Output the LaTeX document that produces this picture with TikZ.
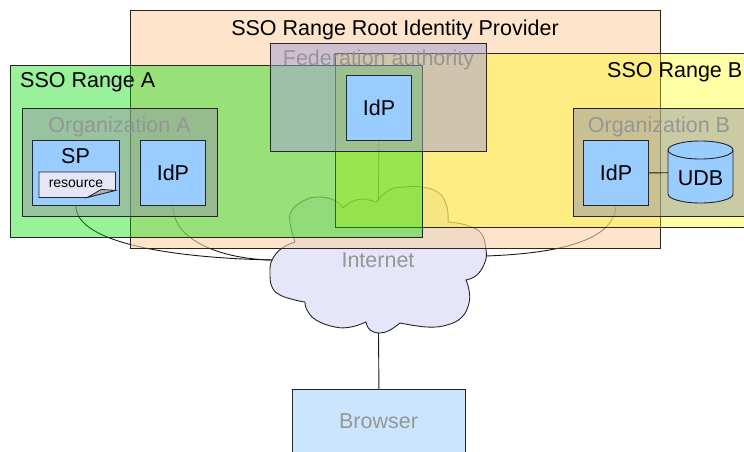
\documentclass[tikz,border=0pt]{standalone}
\usepackage{fontspec}
\setmainfont{Liberation Sans}
\pgfdeclarelayer{cloudlayer}
\pgfdeclarelayer{linklayer}
\pgfsetlayers{cloudlayer,linklayer,main}

\definecolor{peach}{RGB}{251,210,167}
\definecolor{rangeAfill}{RGB}{0,220,0}
\definecolor{rangeBfill}{RGB}{255,255,0}
\definecolor{fedfill}{RGB}{163,156,214}
\definecolor{orgfill}{RGB}{150,150,165}
\definecolor{compblue}{RGB}{153,204,255}
\definecolor{cloudfill}{RGB}{230,230,250}
\definecolor{browserfill}{RGB}{204,229,255}
\definecolor{notefill}{RGB}{230,230,250}
\definecolor{labelgray}{RGB}{150,150,150}

\begin{document}
\begin{tikzpicture}[x=1pt,y=1pt,
  outline/.style={draw=black!85, line width=0.9pt},
  area/.style={outline, fill opacity=#1, rectangle, inner sep=0pt, anchor=north west},
  comp/.style={outline, fill=compblue, rectangle, inner sep=0pt, anchor=north west},
  big/.style={font=\fontsize{21.5}{25}\selectfont},
  small/.style={font=\fontsize{14}{16}\selectfont},
  lbl/.style={inner sep=0pt},
  dim/.style={text=labelgray},
  link/.style={draw=black!90, line width=0.9pt}]
\useasboundingbox (0,0) rectangle (744,-451);

% ---- grouping regions (translucent) ----
\node[area=0.6, fill=peach, minimum width=530, minimum height=238] (root) at (130,-10) {};
\node[area=0.35, fill=rangeBfill, minimum width=420, minimum height=174] (rangeb) at (335,-53) {};
\node[area=0.4, fill=rangeAfill, minimum width=412, minimum height=172] (rangea) at (10,-65) {};
\node[area=0.5, fill=fedfill, minimum width=216, minimum height=108] (fed) at (270,-43) {};
\node[area=0.5, fill=orgfill, minimum width=195, minimum height=108] (orga) at (22,-108) {};
\node[area=0.5, fill=orgfill, minimum width=172, minimum height=108] (orgb) at (573,-108) {};

% ---- components ----
\node[comp, minimum width=87, minimum height=65] (sp) at (32,-140) {};
\node[comp, minimum width=65, minimum height=65, big] (idpa) at (140,-140) {IdP};
\node[comp, minimum width=65, minimum height=65, big] (fedidp) at (346,-75) {IdP};
\node[comp, minimum width=65, minimum height=65, big] (idpb) at (583,-140) {IdP};
\node[inner sep=0pt, minimum width=65, minimum height=63, anchor=north west] (udb) at (668,-141) {};
\node[outline, fill=browserfill, inner sep=0pt, minimum width=173, minimum height=70, anchor=north west] (browser) at (292,-389) {};

% user database cylinder
\path[outline, fill=compblue] (668,-150) -- (668,-194)
  arc[start angle=180, end angle=360, x radius=32.5, y radius=9] -- (733,-150)
  arc[start angle=0, end angle=180, x radius=32.5, y radius=9] -- cycle;
\draw[outline] (668,-150) arc[start angle=180, end angle=360, x radius=32.5, y radius=9];
\draw[link] (idpb.east) -- (udb.west);

% resource note with folded corner
\node[inner sep=0pt, minimum width=76, minimum height=25, anchor=north west] (res) at (39,-172) {};
\draw[outline, line width=0.8pt, fill=notefill] (res.north west) -- (res.north east)
  -- ([yshift=7]res.south east) -- ([xshift=-28]res.south east) -- (res.south west) -- cycle;
\draw[outline, line width=0.8pt, fill=black!30] ([xshift=-28]res.south east)
  -- ([yshift=7]res.south east) -- ([xshift=-14,yshift=8]res.south east) -- cycle;
\node[small, lbl, anchor=base] at (76,-187) {resource};

% ---- labels ----
\node[big, lbl, anchor=base] at (395,-35) {SSO Range Root Identity Provider};
\node[big, lbl, anchor=base west] at (20,-87) {SSO Range A};
\node[big, lbl, anchor=base west] at (607,-77) {SSO Range B};
\node[big, lbl, dim, anchor=base] at (378.5,-65) {Federation authority};
\node[big, lbl, dim, anchor=base] at (119.5,-132) {Organization A};
\node[big, lbl, dim, anchor=base] at (659,-132) {Organization B};
\node[big, lbl, anchor=base] at (75.5,-163) {SP};
\node[big, lbl, anchor=base] at (700.5,-185) {UDB};
\node[big, lbl, dim, anchor=base] at (378,-267) {Internet};
\node[big, lbl, dim, anchor=base] at (378.5,-428) {Browser};

% ---- internet cloud ----
\coordinate (cw) at (272,-260);
\coordinate (ce) at (486,-256);
\coordinate (cn) at (378.5,-201);
\coordinate (cs) at (378.5,-333);
\begin{pgfonlayer}{cloudlayer}
\draw[outline, fill=cloudfill]
  plot[smooth, tension=0.7] coordinates {(295,-242) (290,-223) (292,-210) (305,-200) (318,-197) (334,-200) (343,-208)}
  -- plot[smooth, tension=0.7] coordinates {(343,-208) (349,-203) (362,-199) (376,-202)}
  -- plot[smooth, tension=0.7] coordinates {(376,-202) (389,-190) (404,-187) (422,-187) (439,-193) (447,-207) (448,-222)}
  -- plot[smooth, tension=0.7] coordinates {(448,-222) (466,-225) (481,-233) (486,-250) (485,-262) (477,-275) (466,-280)}
  -- plot[smooth, tension=0.7] coordinates {(466,-280) (469,-290) (469,-303) (462,-317) (447,-325) (427,-327) (400,-323)}
  -- plot[smooth, tension=0.7] coordinates {(400,-323) (390,-330) (380,-333) (370,-330) (366,-322)}
  -- plot[smooth, tension=0.7] coordinates {(366,-322) (351,-327) (335,-327) (316,-320) (307,-310) (305,-302)}
  -- plot[smooth, tension=0.7] coordinates {(305,-302) (295,-300) (280,-295) (272,-287) (270,-273) (272,-260) (282,-248) (295,-242)}
  -- cycle;
\end{pgfonlayer}

% ---- connectors (beneath the translucent regions) ----
\begin{pgfonlayer}{linklayer}
\draw[link] (sp.south) .. controls +(0,-38) and +(-95,2) .. (cw);
\draw[link] (idpa.south) .. controls +(0,-35) and +(-50,1) .. (cw);
\draw[link] (idpb.south) .. controls +(-2,-40) and +(54,2) .. (ce);
\draw[link] (fedidp.south) -- (cn);
\draw[link] (cs) -- (browser.north);
\end{pgfonlayer}
\end{tikzpicture}
\end{document}
